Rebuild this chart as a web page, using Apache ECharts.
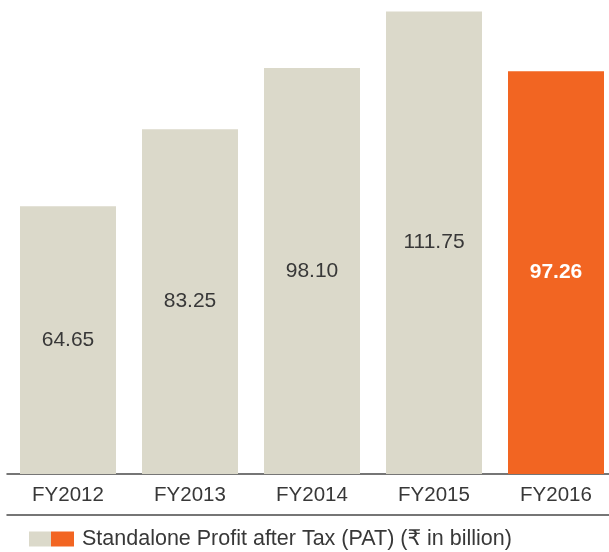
<!DOCTYPE html>
<html>
<head>
<meta charset="utf-8">
<style>
  html, body { margin: 0; padding: 0; background: #ffffff; }
  #chart { width: 609px; height: 552px; }
</style>
<script src="https://cdn.jsdelivr.net/npm/echarts@6/dist/echarts.min.js"></script>
</head>
<body>
<div id="chart"></div>
<script>
const years = ["FY2012", "FY2013", "FY2014", "FY2015", "FY2016"];
const patValues = [64.65, 83.25, 98.10, 111.75, 97.26];
const seriesName = "Standalone Profit after Tax (PAT) (\u20B9 in billion)";

const BEIGE = "#dbd9ca";
const ORANGE = "#f26522";
const TEXT = "#383838";
const FONT = "'Liberation Sans', Arial, 'DejaVu Sans', sans-serif";

const chart = echarts.init(document.getElementById("chart"));

const lastIdx = patValues.length - 1;
const barData = patValues.map((v, i) => {
  const highlight = i === lastIdx;
  return {
    value: v,
    itemStyle: { color: highlight ? ORANGE : BEIGE },
    label: {
      color: highlight ? "#ffffff" : TEXT,
      fontWeight: highlight ? "bold" : "normal",
    },
  };
});

chart.setOption({
  animation: false,
  textStyle: { fontFamily: FONT },
  grid: {
    left: 7, top: 0, width: 610, height: 474,
    containLabel: false,
    outerBoundsMode: "none",
  },
  legend: {
    left: 29,
    top: 528,
    padding: 0,
    itemWidth: 45,
    itemHeight: 15,
    itemGap: 0,
    selectedMode: false,
    textStyle: { color: TEXT, fontSize: 21.5, fontFamily: FONT, padding: [0, 0, 0, 3] },
    data: [{
      name: seriesName,
      icon: "rect",
      itemStyle: {
        color: {
          type: "linear", x: 0, y: 0, x2: 1, y2: 0,
          colorStops: [
            { offset: 0, color: BEIGE },
            { offset: 0.49, color: BEIGE },
            { offset: 0.49, color: ORANGE },
            { offset: 1, color: ORANGE },
          ],
        },
      },
    }],
  },
  xAxis: [
    {
      type: "category",
      data: years,
      axisLine: { lineStyle: { color: "#4a4a4a", width: 1.5 } },
      axisTick: { show: false },
      axisLabel: { color: TEXT, fontSize: 20.5, fontFamily: FONT, margin: 11 },
    },
    {
      // separator line under the year labels
      type: "category",
      data: years,
      position: "bottom",
      offset: 41,
      axisLine: { lineStyle: { color: "#4a4a4a", width: 1.5 } },
      axisTick: { show: false },
      axisLabel: { show: false },
    },
  ],
  yAxis: {
    type: "value",
    min: 0,
    max: 114.5,
    show: false,
    splitLine: { show: false },
  },
  series: [{
    name: seriesName,
    type: "bar",
    xAxisIndex: 0,
    barWidth: 96,
    data: barData,
    label: {
      show: true,
      position: "inside",
      fontSize: 21,
      fontFamily: FONT,
      formatter: (p) => p.value.toFixed(2),
    },
  }],
});
</script>
</body>
</html>
